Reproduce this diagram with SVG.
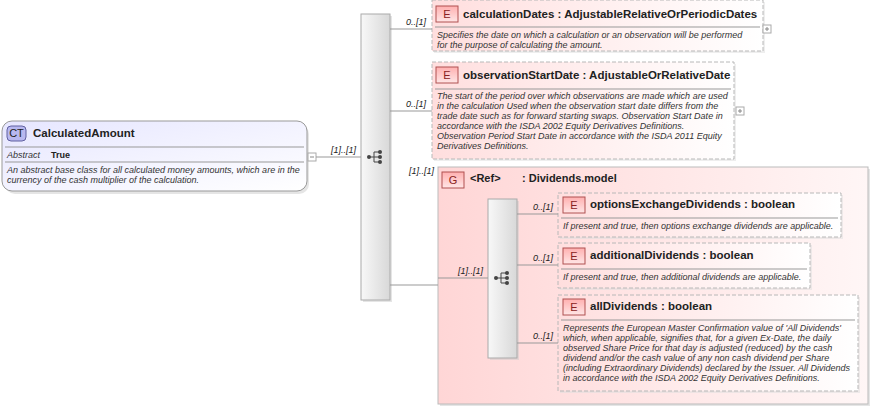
<svg xmlns="http://www.w3.org/2000/svg" width="874" height="409" viewBox="0 0 874 409">
<defs>
<linearGradient id="ctg" x1="0" y1="0" x2="1" y2="1"><stop offset="0" stop-color="#e6e6ff"/><stop offset="1" stop-color="#ffffff"/></linearGradient>
<linearGradient id="eg" x1="0" y1="0" x2="1" y2="0"><stop offset="0" stop-color="#ffdede"/><stop offset="1" stop-color="#ffffff"/></linearGradient>
<linearGradient id="gg" x1="0" y1="0" x2="1" y2="0"><stop offset="0" stop-color="#ffd6d6"/><stop offset="1" stop-color="#fff6f6"/></linearGradient>
<linearGradient id="sg" x1="0" y1="0" x2="1" y2="0"><stop offset="0" stop-color="#f8f8f8"/><stop offset="1" stop-color="#d8d8d8"/></linearGradient>
<linearGradient id="bg" x1="0" y1="0" x2="0" y2="1"><stop offset="0" stop-color="#ffb0b0"/><stop offset="1" stop-color="#ffe6e6"/></linearGradient>
<g id="seqicon"><circle cx="-7" cy="0" r="2" fill="#444"/><line x1="-7" y1="0" x2="-2" y2="0" stroke="#444"/><line x1="-2" y1="-5" x2="-2" y2="5" stroke="#444"/><line x1="-2" y1="-5" x2="3" y2="-5" stroke="#444"/><line x1="-2" y1="0" x2="3" y2="0" stroke="#444"/><line x1="-2" y1="5" x2="3" y2="5" stroke="#444"/><circle cx="4" cy="-5" r="2" fill="#444"/><circle cx="4" cy="0" r="2" fill="#444"/><circle cx="4" cy="5" r="2" fill="#444"/></g>
</defs>
<style>
text{font-family:"Liberation Sans",Arial,sans-serif;fill:#222}
.t{font-size:11.5px;font-weight:bold}
.d{font-size:9px;font-style:italic;fill:#333}
.c{font-size:9px;font-style:italic}
.el{fill:url(#eg);stroke:#b8b8b8;stroke-dasharray:4,2}
.sep{stroke:#999;stroke-width:1}
.ln{stroke:#999;stroke-width:1;fill:none}
.badge{fill:url(#bg);stroke:#b05050}
.bt{font-size:11px;fill:#822;text-anchor:middle}
.seq{fill:url(#sg);stroke:#aaa}
.pm{fill:#fff;stroke:#aaa}
</style>
<g id="CalculatedAmount">
<rect x="5" y="124" width="304" height="70" rx="10" fill="#ccc" opacity="0.5"/>
<rect x="2" y="121" width="305" height="70" rx="10" fill="url(#ctg)" stroke="#999"/>
<rect x="7" y="126" width="19" height="15" rx="4" fill="#b8b8f0" stroke="#6060a0"/>
<text x="16.5" y="137" font-size="11" fill="#336" text-anchor="middle">CT</text>
<text class="t" x="33" y="137">CalculatedAmount</text>
<line class="sep" x1="5" y1="147" x2="304" y2="147"/>
<text class="d" x="7" y="158">Abstract</text>
<text x="51" y="158" font-size="9" font-weight="bold">True</text>
<line class="sep" x1="5" y1="162" x2="304" y2="162"/>
<text class="d" x="7" y="173">An abstract base class for all calculated money amounts, which are in the</text>
<text class="d" x="7" y="183">currency of the cash multiplier of the calculation.</text>
<rect class="pm" x="308" y="153" width="8" height="8"/><line x1="310" y1="157" x2="314" y2="157" stroke="#888"/>
</g>
<g id="sequence1">
<rect x="363" y="16" width="29" height="286" fill="#ccc" opacity="0.5"/>
<rect class="seq" x="361" y="14" width="29" height="286"/>
<use href="#seqicon" x="376" y="157"/>
</g>
<g id="calculationDates">
<rect x="434" y="2" width="331" height="51" fill="#ddd" opacity="0.5"/>
<rect class="el" x="432" y="0" width="331" height="51"/>
<rect class="badge" x="436" y="6" width="22" height="16"/><text class="bt" x="447" y="18">E</text>
<text class="t" x="463" y="18">calculationDates : AdjustableRelativeOrPeriodicDates</text>
<line class="sep" x1="435" y1="27" x2="760" y2="27"/>
<text class="d" x="437" y="38">Specifies the date on which a calculation or an observation will be performed</text>
<text class="d" x="437" y="48">for the purpose of calculating the amount.</text>
<rect class="pm" x="763" y="25" width="8" height="8"/><path d="M765 29h4M767 27v4" stroke="#888"/>
</g>
<g id="observationStartDate">
<rect x="434" y="64" width="302" height="97" fill="#ddd" opacity="0.5"/>
<rect class="el" x="432" y="62" width="302" height="97"/>
<rect class="badge" x="436" y="67" width="22" height="16"/><text class="bt" x="447" y="79">E</text>
<text class="t" x="463" y="79">observationStartDate : AdjustableOrRelativeDate</text>
<line class="sep" x1="435" y1="89" x2="731" y2="89"/>
<text class="d" x="437" y="99">The start of the period over which observations are made which are used</text>
<text class="d" x="437" y="109">in the calculation Used when the observation start date differs from the</text>
<text class="d" x="437" y="119">trade date such as for forward starting swaps. Observation Start Date in</text>
<text class="d" x="437" y="129">accordance with the ISDA 2002 Equity Derivatives Definitions.</text>
<text class="d" x="437" y="139">Observation Period Start Date in accordance with the ISDA 2011 Equity</text>
<text class="d" x="437" y="149">Derivatives Definitions.</text>
<rect class="pm" x="736" y="107" width="8" height="8"/><path d="M738 111h4M740 109v4" stroke="#888"/>
</g>
<g id="DividendsModel">
<rect x="440" y="169" width="430" height="237" fill="#ccc" opacity="0.5"/>
<rect x="438" y="167" width="430" height="237" fill="url(#gg)" stroke="#bbb"/>
<rect class="badge" x="442" y="172" width="22" height="16"/><text class="bt" x="453" y="184">G</text>
<text x="470" y="182" font-size="11" font-weight="bold">&lt;Ref&gt;</text>
<text x="522" y="182" font-size="11" font-weight="bold">: Dividends.model</text>
</g>
<g id="sequence2">
<rect x="490" y="201" width="29" height="159" fill="#ccc" opacity="0.5"/>
<rect class="seq" x="488" y="199" width="29" height="159"/>
<use href="#seqicon" x="503" y="278"/>
</g>
<g id="optionsExchangeDividends">
<rect x="560" y="195" width="283" height="44" fill="#ddd" opacity="0.5"/>
<rect class="el" x="558" y="193" width="283" height="44"/>
<rect class="badge" x="563" y="197" width="22" height="16"/><text class="bt" x="574" y="209">E</text>
<text class="t" x="590" y="208">optionsExchangeDividends : boolean</text>
<line class="sep" x1="561" y1="218" x2="838" y2="218"/>
<text class="d" x="563" y="229">If present and true, then options exchange dividends are applicable.</text>
</g>
<g id="additionalDividends">
<rect x="560" y="245" width="252" height="45" fill="#ddd" opacity="0.5"/>
<rect class="el" x="558" y="243" width="252" height="45"/>
<rect class="badge" x="563" y="248" width="22" height="16"/><text class="bt" x="574" y="260">E</text>
<text class="t" x="590" y="259">additionalDividends : boolean</text>
<line class="sep" x1="561" y1="269" x2="807" y2="269"/>
<text class="d" x="563" y="280">If present and true, then additional dividends are applicable.</text>
</g>
<g id="allDividends">
<rect x="560" y="297" width="300" height="96" fill="#ddd" opacity="0.5"/>
<rect class="el" x="558" y="295" width="300" height="96"/>
<rect class="badge" x="563" y="299" width="22" height="16"/><text class="bt" x="574" y="311">E</text>
<text class="t" x="590" y="310">allDividends : boolean</text>
<line class="sep" x1="561" y1="320" x2="855" y2="320"/>
<text class="d" x="563" y="331">Represents the European Master Confirmation value of 'All Dividends'</text>
<text class="d" x="563" y="341">which, when applicable, signifies that, for a given Ex-Date, the daily</text>
<text class="d" x="563" y="351">observed Share Price for that day is adjusted (reduced) by the cash</text>
<text class="d" x="563" y="361">dividend and/or the cash value of any non cash dividend per Share</text>
<text class="d" x="563" y="371">(including Extraordinary Dividends) declared by the Issuer. All Dividends</text>
<text class="d" x="563" y="381">in accordance with the ISDA 2002 Equity Derivatives Definitions.</text>
</g>
<g id="connectors">
<line class="ln" x1="316" y1="157" x2="361" y2="157"/>
<path class="ln" d="M390 29H432M390 111H432M390 285H438"/>
<path class="ln" d="M438 278H488M517 214H558M517 265H558M517 343H558"/>
<text class="c" x="331" y="153">[1]..[1]</text>
<text class="c" x="406" y="25">0..[1]</text>
<text class="c" x="406" y="107">0..[1]</text>
<text class="c" x="409" y="174">[1]..[1]</text>
<text class="c" x="458" y="274">[1]..[1]</text>
<text class="c" x="533" y="210">0..[1]</text>
<text class="c" x="533" y="261">0..[1]</text>
<text class="c" x="533" y="339">0..[1]</text>
</g>
</svg>
